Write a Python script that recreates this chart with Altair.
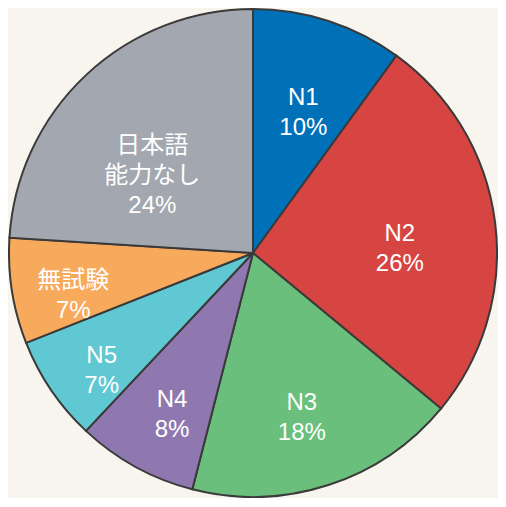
import altair as alt
import pandas as pd

categories = ["N1", "N2", "N3", "N4", "N5", "無試験", "日本語\n能力なし"]
percent = [10, 26, 18, 8, 7, 7, 24]
colors = ["#0071b9", "#d64542", "#69bf7b", "#8f78b0", "#5fc8d2", "#f7a95c", "#a3a7af"]

# label distance from centre (layout only)
label_radius = [163, 148, 158, 168, 183, 182, 147]

df = pd.DataFrame({
    "cat": categories,
    "pct": percent,
    "ord": list(range(len(categories))),
    "lr": label_radius,
})
df["label"] = df["cat"] + "\n" + df["pct"].astype(str) + "%"
df["mid"] = df["pct"].cumsum() - df["pct"] / 2

theta_scale = alt.Scale(domain=[0, 100], range=[0, 6.283185307])

pie = alt.Chart(df).mark_arc(stroke="#3a3a3a", strokeWidth=2).encode(
    theta=alt.Theta("pct:Q", stack=True, scale=theta_scale),
    order=alt.Order("ord:Q"),
    color=alt.Color("cat:N", scale=alt.Scale(domain=categories, range=colors), legend=None),
    radius=alt.value(244),
)

text = alt.Chart(df).mark_text(
    color="white", fontSize=24, lineBreak="\n", lineHeight=30,
    font="Liberation Sans, Noto Sans CJK JP", fontWeight=400, align="center", baseline="middle",
).encode(
    theta=alt.Theta("mid:Q", stack=False, scale=theta_scale),
    text="label:N",
    radius=alt.Radius("lr:Q", scale=None),
)

chart = (pie + text).resolve_scale(theta="shared").properties(
    width=490, height=490, padding=0, background="#f8f4ee",
    autosize=alt.AutoSizeParams(type="none"),
).configure_view(stroke=None)

chart.save("out.html", embed_options={"renderer": "svg", "actions": False})
